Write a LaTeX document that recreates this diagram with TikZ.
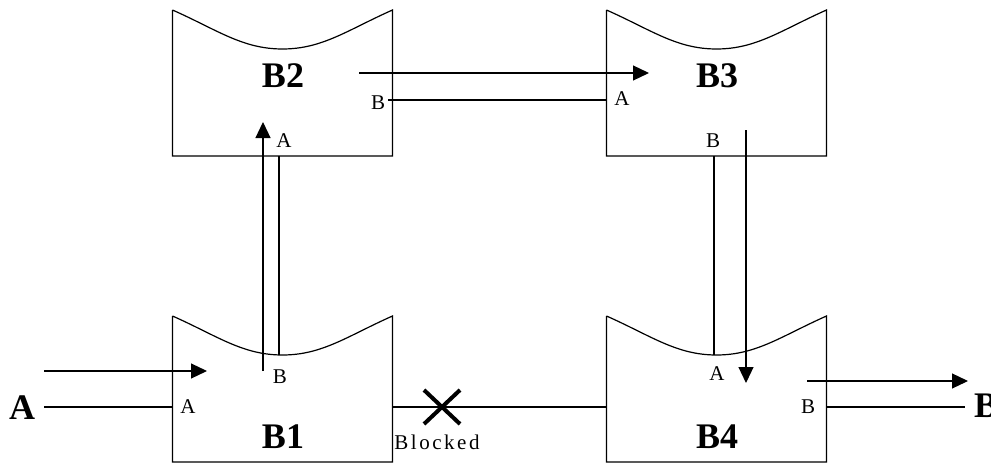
\documentclass[tikz,border=0pt]{standalone}
\usepackage{fontspec}
\setmainfont{Liberation Serif}
\usetikzlibrary{arrows.meta,calc}

\tikzset{
  tank/.style={minimum width=220pt, minimum height=146pt, inner sep=0pt, outer sep=0pt},
  pipe/.style={line width=1.2pt},
  feed/.style={pipe, -{Triangle[length=16pt,width=15pt]}},
  tanklbl/.style={font=\fontsize{36}{36}\selectfont\bfseries, inner sep=0pt},
  portlbl/.style={font=\fontsize{21}{21}\selectfont, inner sep=0pt},
}
% open tank: three sides and a sagging top
\newcommand{\tankshape}[1]{%
  \draw[pipe] (#1.north west) -- (#1.south west) -- (#1.south east) -- (#1.north east)
    .. controls ($(#1.north east)+(-45,20)$) and ($(#1.north)+(40,39)$) .. ($(#1.north)+(0,39)$)
    .. controls ($(#1.north)+(-40,39)$) and ($(#1.north west)+(45,20)$) .. (#1.north west);}

\begin{document}
\begin{tikzpicture}[x=1pt,y=1pt,yscale=-1,xscale=1]
\useasboundingbox (0,0) rectangle (991,463);

% Tanks
\node[tank] (b2) at (282.5,83) {};
\node[tank] (b3) at (716.5,83) {};
\node[tank] (b1) at (282.5,389) {};
\node[tank] (b4) at (716.5,389) {};
\tankshape{b1}
\tankshape{b2}
\tankshape{b3}
\tankshape{b4}

% Text Node
\node[tanklbl] (n1) at (283,437) {B1};
% Text Node
\node[tanklbl] (n2) at (283,76) {B2};
% Text Node
\node[tanklbl] (n3) at (717,76) {B3};
% Text Node
\node[tanklbl] (n4) at (717,437) {B4};
% Text Node
\node[tanklbl] (srcA) at (22,408) {A};
% Text Node
\node[tanklbl] (dstB) at (986,406) {B};
% Text Node
\node[portlbl] (b1A) at (188,407) {A};
% Text Node
\node[portlbl] (b1B) at (280,377) {B};
% Text Node
\node[portlbl] (b2A) at (284,141) {A};
% Text Node
\node[portlbl] (b2B) at (378,103) {B};
% Text Node
\node[portlbl] (b3A) at (622,99) {A};
% Text Node
\node[portlbl] (b3B) at (713,141) {B};
% Text Node
\node[portlbl] (b4A) at (717,374) {A};
% Text Node
\node[portlbl] (b4B) at (808,407) {B};
% Text Node
\node[portlbl, font=\fontsize{21}{21}\selectfont\addfontfeature{LetterSpace=12}] (blk) at (437,442) {Blocked};

% Ports
\coordinate (inTop) at (44,371);
\coordinate (inTip) at (207,371);
\coordinate (inLow) at (44,407);
\coordinate (up) at (263,371);
\coordinate (upTip) at (263,122);
\coordinate (upRet) at (279,355);
\coordinate (over) at (359,73);
\coordinate (overTip) at (649,73);
\coordinate (back) at (388,100);
\coordinate (downRet) at (714,355);
\coordinate (down) at (746,130);
\coordinate (downTip) at (746,383);
\coordinate (out) at (807,381);
\coordinate (outTip) at (968,381);
\coordinate (outLow) at (965,407);

% Connection
\draw[feed] (inTop) -- (inTip);
% Connection
\draw[pipe] (inLow) -- (inLow -| b1.west);
% Connection
\draw[feed] (up) -- (upTip);
% Connection
\draw[pipe] (upRet) -- (upRet |- b2.south);
% Connection
\draw[feed] (over) -- (overTip);
% Connection
\draw[pipe] (back) -- (back -| b3.west);
% Connection
\draw[pipe] (downRet) -- (downRet |- b3.south);
% Connection
\draw[feed] (down) -- (downTip);
% Connection
\draw[pipe] (b1.east |- inLow) -- (b4.west |- inLow);
% Connection
\draw[feed] (out) -- (outTip);
% Connection
\draw[pipe] (b4.east |- outLow) -- (outLow);

% Blocked mark
\coordinate (stop) at (442,407);
\draw[line width=4pt] ($(stop)+(-18,-17)$) -- ($(stop)+(18,17)$)
                      ($(stop)+(-18,17)$) -- ($(stop)+(18,-17)$);

\end{tikzpicture}
\end{document}
